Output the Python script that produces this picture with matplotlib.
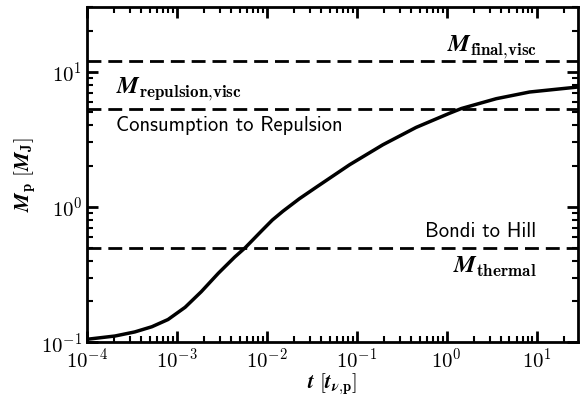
import numpy as np
import matplotlib.pyplot as plt

plt.rcParams['mathtext.fontset'] = 'cm'
plt.rcParams['font.family'] = 'serif'
plt.rcParams['font.serif'] = ['cmr10']
plt.rcParams['axes.formatter.use_mathtext'] = True

# planet mass growth (M_J) against time (t_nu,p)
t = [1e-4, 2.04e-4, 3.39e-4, 5.25e-4, 7.94e-4, 1.23e-3, 1.86e-3, 2.88e-3,
     4.37e-3, 5.75e-3, 8.71e-3, 1.15e-2, 1.51e-2, 2.3e-2, 3.55e-2, 8.32e-2,
     0.195, 0.457, 1.08, 1.46, 3.56, 8.36, 29]
M = [0.105, 0.111, 0.119, 0.130, 0.147, 0.181, 0.236, 0.323,
     0.425, 0.50, 0.664, 0.80, 0.93, 1.15, 1.40, 2.05,
     2.88, 3.87, 4.93, 5.34, 6.31, 7.07, 7.7]

M_final_visc = 11.9
M_repulsion_visc = 5.3
M_thermal = 0.5

fig = plt.figure(figsize=(5.81, 3.96), dpi=100)
ax = fig.add_axes([0.150, 0.136, 0.845, 0.846])

ax.plot(t, M, color='k', lw=2.5, solid_joinstyle='round')
for m in [M_final_visc, M_repulsion_visc, M_thermal]:
    ax.axhline(m, color='k', lw=2, ls=(0, (5, 2.5)))

ax.set_xscale('log')
ax.set_yscale('log')
ax.set_xlim(1e-4, 29)
ax.set_ylim(0.1, 30)

fs = 17.5
ax.text(10, 15.2, r'$\boldsymbol{M}_{\mathbf{final{,}visc}}$', ha='right', va='center', fontsize=fs)
ax.text(2.1e-4, 7.4, r'$\boldsymbol{M}_{\mathbf{repulsion{,}visc}}$', ha='left', va='center', fontsize=fs)
ax.text(2.1e-4, 4.0, 'Consumption to Repulsion', ha='left', va='center',
        fontsize=14.8, family='cmss10')
ax.text(10, 0.66, 'Bondi to Hill', ha='right', va='center', fontsize=14.8, family='cmss10')
ax.text(10, 0.36, r'$\boldsymbol{M}_{\mathbf{thermal}}$', ha='right', va='center', fontsize=fs)

ax.set_xlabel(r'$\boldsymbol{t}\ [\boldsymbol{t}_{\boldsymbol{\nu}{,}\mathbf{p}}]$', fontsize=15, labelpad=-1)
ax.set_ylabel(r'$\boldsymbol{M}_{\mathbf{p}}\ [\boldsymbol{M}_{\mathbf{J}}]$', fontsize=15, labelpad=2)

for s in ax.spines.values():
    s.set_linewidth(2)
ax.tick_params(which='both', direction='in', top=True, right=True, labelsize=15)
ax.tick_params(axis='x', which='major', pad=4)
ax.tick_params(which='major', length=8, width=2)
ax.tick_params(which='minor', length=4, width=1.5)

fig.savefig('out.png', dpi=100)
